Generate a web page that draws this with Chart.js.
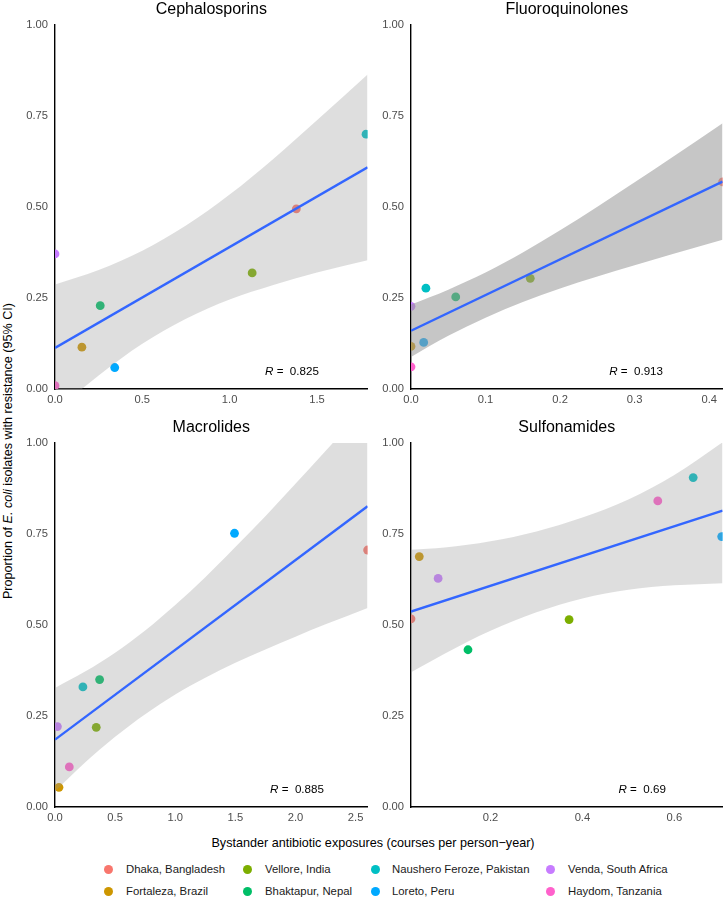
<!DOCTYPE html>
<html>
<head>
<meta charset="utf-8">
<script src="https://cdn.jsdelivr.net/npm/chart.js@4.4.1/dist/chart.umd.min.js"></script>
<style>
  html, body { margin: 0; padding: 0; background: #ffffff; }
  #wrap { position: relative; width: 727px; height: 900px; overflow: hidden; font-family: "Liberation Sans", Arial, sans-serif; }
  canvas { position: absolute; }
  .txt { position: absolute; white-space: nowrap; color: #1a1a1a; font-size: 11.35px; line-height: 14px; }
  .dot { position: absolute; width: 9px; height: 9px; border-radius: 50%; }
</style>
</head>
<body>
<div id="wrap">
  <canvas id="c0"></canvas>
  <canvas id="c1"></canvas>
  <canvas id="c2"></canvas>
  <canvas id="c3"></canvas>
</div>
<script>
// ---------------- DATA ----------------
const sites = ["Dhaka, Bangladesh", "Fortaleza, Brazil", "Vellore, India", "Bhaktapur, Nepal",
               "Naushero Feroze, Pakistan", "Loreto, Peru", "Venda, South Africa", "Haydom, Tanzania"];
const siteColors = ["#F8766D", "#CD9600", "#7CAE00", "#00BE67", "#00BFC4", "#00A9FF", "#C77CFF", "#FF61CC"];

const panelTitles = ["Cephalosporins", "Fluoroquinolones", "Macrolides", "Sulfonamides"];
const rValues = ["0.825", "0.913", "0.885", "0.69"];

// exposures (courses per person-year) and resistance proportions, in site order
const cephExposure   = [1.382, 0.154, 1.129, 0.259, 1.781, 0.342, 0.000, 0.000];
const cephResistance = [0.495, 0.115, 0.319, 0.229, 0.700, 0.059, 0.371, 0.009];
const fluoExposure   = [0.418, 0.000, 0.160, 0.060, 0.020, 0.017, 0.000, 0.000];
const fluoResistance = [0.569, 0.117, 0.304, 0.253, 0.277, 0.128, 0.227, 0.061];
const macrExposure   = [2.600, 0.033, 0.343, 0.371, 0.232, 1.493, 0.020, 0.119];
const macrResistance = [0.706, 0.054, 0.219, 0.350, 0.330, 0.752, 0.221, 0.110];
const sulfExposure   = [0.027, 0.045, 0.371, 0.151, 0.641, 0.703, 0.086, 0.564];
const sulfResistance = [0.517, 0.688, 0.515, 0.432, 0.905, 0.743, 0.628, 0.841];

// fitted lines (end points)
const cephFitX = [0, 1.79];     const cephFitY = [0.113, 0.609];
const fluoFitX = [0, 0.418];    const fluoFitY = [0.160, 0.570];
const macrFitX = [0, 2.60];     const macrFitY = [0.185, 0.826];
const sulfFitX = [0.027, 0.705]; const sulfFitY = [0.537, 0.814];

// 95% CI bands
const cephBandX     = [0, 0.25, 0.5, 0.75, 1.0, 1.25, 1.5, 1.79];
const cephBandUpper = [0.287, 0.327, 0.380, 0.449, 0.534, 0.632, 0.738, 0.864];
const cephBandLower = [-0.061, 0.037, 0.124, 0.193, 0.246, 0.286, 0.320, 0.354];
const fluoBandX     = [0, 0.05, 0.1, 0.15, 0.2, 0.25, 0.3, 0.35, 0.418];
const fluoBandUpper = [0.232, 0.273, 0.320, 0.375, 0.436, 0.501, 0.568, 0.636, 0.730];
const fluoBandLower = [0.088, 0.146, 0.196, 0.239, 0.276, 0.309, 0.340, 0.370, 0.410];
const macrBandX     = [0, 0.25, 0.5, 0.75, 1.0, 1.25, 1.5, 1.75, 2.0, 2.25, 2.6];
const macrBandUpper = [0.327, 0.372, 0.424, 0.485, 0.555, 0.631, 0.714, 0.799, 0.888, 0.978, 1.105];
const macrBandLower = [0.043, 0.122, 0.193, 0.255, 0.309, 0.355, 0.396, 0.433, 0.468, 0.502, 0.547];
const sulfBandX     = [0.027, 0.1, 0.2, 0.3, 0.4, 0.5, 0.6, 0.705];
const sulfBandUpper = [0.707, 0.713, 0.730, 0.757, 0.795, 0.845, 0.912, 1.002];
const sulfBandLower = [0.370, 0.421, 0.484, 0.535, 0.573, 0.597, 0.609, 0.615];

// axis ticks and ranges
const cephXTicks = [0, 0.5, 1.0, 1.5];
const fluoXTicks = [0, 0.1, 0.2, 0.3, 0.4];
const macrXTicks = [0, 0.5, 1.0, 1.5, 2.0, 2.5];
const sulfXTicks = [0.2, 0.4, 0.6];
const yTicks     = [0, 0.25, 0.5, 0.75, 1.0];
const cephXRange = [0, 1.79];
const fluoXRange = [0, 0.418];
const macrXRange = [0, 2.60];
const sulfXRange = [0.027, 0.705];

const xTitle = "Bystander antibiotic exposures (courses per person\u2212year)";

// ---------------- LAYOUT / STYLE ----------------
const FONT = '"Liberation Sans", Arial, sans-serif';
Chart.defaults.font.family = FONT;

const panelBoxes = [
  { left: 18,  top: 0,   width: 354, height: 414 },
  { left: 374, top: 0,   width: 353, height: 414 },
  { left: 18,  top: 418, width: 354, height: 414 },
  { left: 374, top: 418, width: 353, height: 414 }
];
const bandAlpha = [0.32, 0.56, 0.32, 0.32];
const rLabelPos = [0.672, 0.636, 0.688, 0.666];

const panels = [
  { ex: cephExposure, res: cephResistance, fx: cephFitX, fy: cephFitY, bx: cephBandX, bu: cephBandUpper, bl: cephBandLower, ticks: cephXTicks, range: cephXRange },
  { ex: fluoExposure, res: fluoResistance, fx: fluoFitX, fy: fluoFitY, bx: fluoBandX, bu: fluoBandUpper, bl: fluoBandLower, ticks: fluoXTicks, range: fluoXRange },
  { ex: macrExposure, res: macrResistance, fx: macrFitX, fy: macrFitY, bx: macrBandX, bu: macrBandUpper, bl: macrBandLower, ticks: macrXTicks, range: macrXRange },
  { ex: sulfExposure, res: sulfResistance, fx: sulfFitX, fy: sulfFitY, bx: sulfBandX, bu: sulfBandUpper, bl: sulfBandLower, ticks: sulfXTicks, range: sulfXRange }
];

const zip = (xs, ys) => xs.map((x, i) => ({ x: x, y: ys[i] }));

// R label and panel strip title (centred over the plotting area)
const panelTextPlugin = {
  id: 'panelText',
  afterDatasetsDraw(chart, args, opts) {
    const ctx = chart.ctx;
    const area = chart.chartArea;
    ctx.save();
    // title
    ctx.fillStyle = '#000';
    ctx.textBaseline = 'middle';
    ctx.textAlign = 'center';
    ctx.font = '16px ' + FONT;
    ctx.fillText(opts.title, (area.left + area.right) / 2, 9.5);
    // R label
    const x0 = area.left + opts.frac * (area.right - area.left);
    const y0 = chart.scales.y.getPixelForValue(0.048);
    ctx.textAlign = 'left';
    ctx.font = 'italic 11.6px ' + FONT;
    ctx.fillText('R', x0, y0);
    const w = ctx.measureText('R').width;
    ctx.font = '11.6px ' + FONT;
    ctx.fillText(' =  ' + opts.value, x0 + w, y0);
    ctx.restore();
  }
};

panels.forEach((p, i) => {
  const box = panelBoxes[i];
  const cv = document.getElementById('c' + i);
  cv.width = box.width; cv.height = box.height;
  cv.style.left = box.left + 'px'; cv.style.top = box.top + 'px';
  cv.style.width = box.width + 'px'; cv.style.height = box.height + 'px';

  new Chart(cv, {
    type: 'line',
    data: {
      datasets: [
        { // fitted line
          data: zip(p.fx, p.fy), borderColor: '#3366FF', borderWidth: 2.4,
          pointRadius: 0, fill: false, order: 0, clip: 0
        },
        { // band upper
          data: zip(p.bx, p.bu), borderWidth: 0, borderColor: 'rgba(0,0,0,0)',
          pointRadius: 0, fill: '+1', backgroundColor: 'rgba(153,153,153,' + bandAlpha[i] + ')',
          cubicInterpolationMode: 'monotone', order: 1, clip: 0
        },
        { // band lower
          data: zip(p.bx, p.bl), borderWidth: 0, borderColor: 'rgba(0,0,0,0)',
          pointRadius: 0, fill: false, cubicInterpolationMode: 'monotone', order: 1, clip: 0
        },
        { // sites
          data: zip(p.ex, p.res), showLine: false,
          pointRadius: 4.4, pointBorderWidth: 0,
          pointBackgroundColor: siteColors, pointBorderColor: siteColors,
          order: 2, clip: 0
        }
      ]
    },
    options: {
      responsive: false, animation: false, devicePixelRatio: 1,
      events: [],
      layout: { padding: { left: 0, right: 3, top: 25, bottom: 0 } },
      plugins: {
        legend: { display: false },
        tooltip: { enabled: false },
        title: { display: false },
        panelText: { title: panelTitles[i], frac: rLabelPos[i], value: rValues[i] }
      },
      scales: {
        x: {
          type: 'linear', min: p.range[0], max: p.range[1],
          grid: { display: false, drawTicks: false },
          border: { display: true, color: '#000', width: 1.4 },
          afterBuildTicks: (axis) => { axis.ticks = p.ticks.map(v => ({ value: v })); },
          afterFit: (axis) => { axis.height = 25; },
          ticks: {
            color: '#4d4d4d', font: { size: 11.2 }, padding: 4, maxRotation: 0, autoSkip: false,
            callback: (v) => Number(v).toFixed(1)
          }
        },
        y: {
          type: 'linear', min: 0, max: 1,
          grid: { display: false, drawTicks: false },
          border: { display: true, color: '#000', width: 1.4 },
          afterBuildTicks: (axis) => { axis.ticks = yTicks.map(v => ({ value: v })); },
          afterFit: (axis) => { axis.width = 37; },
          ticks: {
            color: '#4d4d4d', font: { size: 11.2 }, padding: 7, autoSkip: false,
            callback: (v) => Number(v).toFixed(2)
          }
        }
      }
    },
    plugins: [panelTextPlugin]
  });
});

// ---------------- TEXT: axis titles & legend ----------------
const wrap = document.getElementById('wrap');
function addText(html, left, top, extra) {
  const d = document.createElement('div');
  d.className = 'txt';
  d.innerHTML = html;
  d.style.left = left + 'px';
  d.style.top = top + 'px';
  if (extra) Object.assign(d.style, extra);
  wrap.appendChild(d);
  return d;
}
addText(xTitle, 373, 843, { transform: 'translate(-50%,-50%)', color: '#000', fontSize: '12.6px' });
addText('Proportion of <i>E. coli</i> isolates with resistance (95% CI)', 8, 451,
        { transform: 'translate(-50%,-50%) rotate(-90deg)', color: '#000', fontSize: '12.6px' });

const legendCols = [[0, 1], [2, 3], [4, 5], [6, 7]];
const legendDotX = [108, 247, 375, 550];
const legendTextX = [126, 265, 392, 568];
const legendRowY = [869, 891];
legendCols.forEach((col, c) => {
  col.forEach((si, r) => {
    const dot = document.createElement('div');
    dot.className = 'dot';
    dot.style.background = siteColors[si];
    dot.style.left = (legendDotX[c] - 4.5) + 'px';
    dot.style.top = (legendRowY[r] - 4.5) + 'px';
    wrap.appendChild(dot);
    addText(sites[si], legendTextX[c], legendRowY[r] - 7);
  });
});
</script>
</body>
</html>
